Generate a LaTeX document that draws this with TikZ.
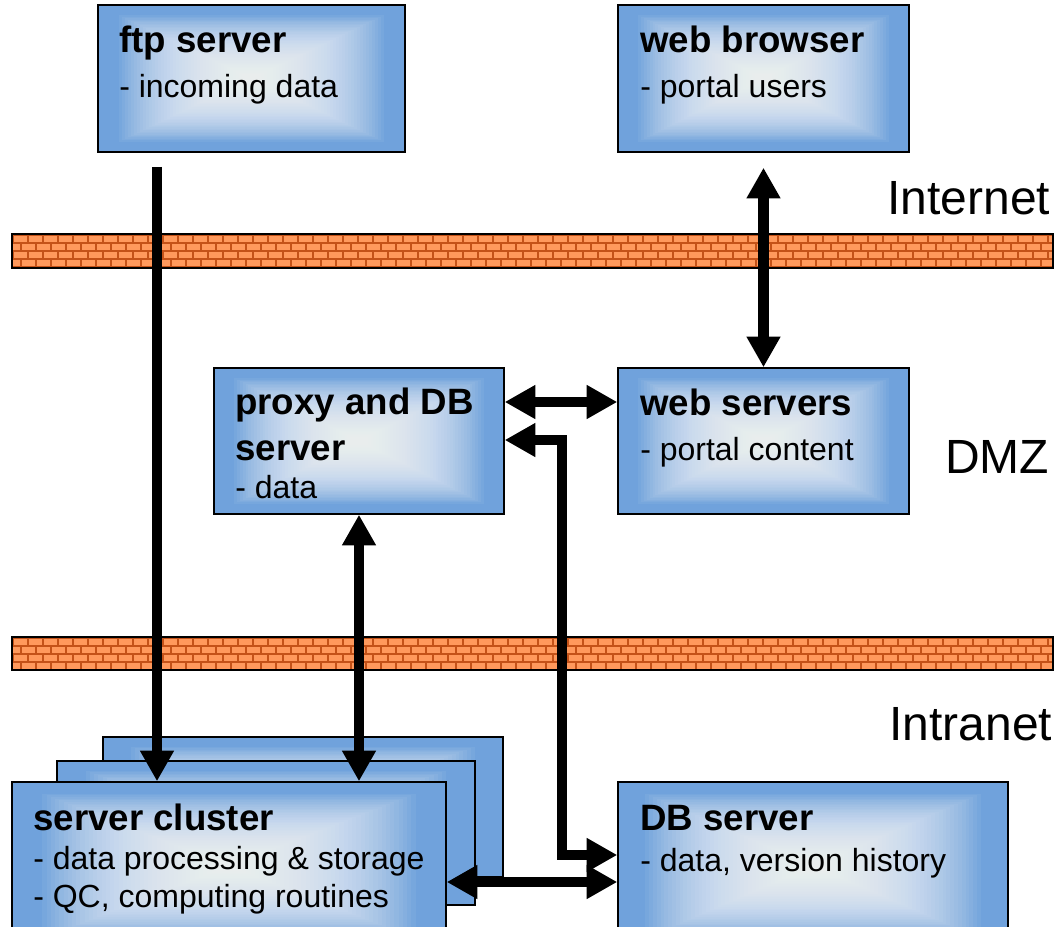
\documentclass[tikz,border=0pt]{standalone}
\usepackage{fontspec}
\setmainfont{Liberation Sans}
\usetikzlibrary{arrows.meta,calc}
\definecolor{boxblue}{RGB}{112,162,220}
\definecolor{brickface}{RGB}{255,153,92}
\definecolor{mortar}{RGB}{196,82,24}
\tikzset{
  srvbox/.style={draw=black, line width=1.1pt, fill=boxblue, inner sep=0pt,
    path picture={
      \foreach \i in {0,...,41}{
        \pgfmathsetmacro{\f}{0.86-\i*0.0195}
        \fill[white, fill opacity=0.055]
          ($(path picture bounding box.center)!\f!(path picture bounding box.south west)$)
          rectangle
          ($(path picture bounding box.center)!\f!(path picture bounding box.north east)$);
      }
    }},
  ttl/.style={anchor=base west, inner sep=0pt, font=\fontsize{27.5}{30}\selectfont\bfseries},
  sub/.style={anchor=base west, inner sep=0pt, font=\fontsize{24}{28}\selectfont},
  zone/.style={anchor=base west, inner sep=0pt, font=\fontsize{36}{40}\selectfont},
  conn/.style={line width=8pt, -{Triangle[width=24pt,length=23pt]}},
  bconn/.style={line width=8pt, {Triangle[width=24pt,length=23pt]}-{Triangle[width=24pt,length=23pt]}},
}
\newcommand{\brickwall}[2]{% top y, bottom y (pixels, downward)
  \begin{scope}
    \clip (12,-#1) rectangle (1053,-#2);
    \fill[mortar] (12,-#1) rectangle (1053,-#2);
    \foreach \r in {0,1,2,3}{
      \pgfmathsetmacro{\off}{mod(\r,2)*7.5}
      \foreach \k in {-1,0,...,70}{
        \fill[brickface] ({14+\off+15*\k},{-(#1+2+8*\r)}) rectangle ({14+\off+15*\k+13},{-(#1+2+8*\r+6)});
      }
    }
  \end{scope}
  \draw[line width=1.5pt] (12,-#1) rectangle (1053,-#2);
}
\begin{document}
\begin{tikzpicture}[x=0.75pt,y=0.75pt]
\useasboundingbox (0,0) rectangle (1056,-927);
\clip (0,0) rectangle (1056,-927);

% walls
\brickwall{234}{268}
\brickwall{637}{670}

% zone labels
\node[zone] (internet) at (887,-215) {Internet};
\node[zone] (dmz) at (945,-473) {DMZ};
\node[zone] (intranet) at (889,-740) {Intranet};

% boxes
\node[srvbox, minimum width=307*0.75pt, minimum height=147*0.75pt] (ftp) at (251.5,-78.5) {};
\node[srvbox, minimum width=291*0.75pt, minimum height=147*0.75pt] (browser) at (763.5,-78.5) {};
\node[srvbox, minimum width=290*0.75pt, minimum height=146*0.75pt] (proxy) at (359,-441) {};
\node[srvbox, minimum width=291*0.75pt, minimum height=146*0.75pt] (websrv) at (763.5,-441) {};
\node[srvbox, minimum width=400*0.75pt, minimum height=140*0.75pt] (clusterc) at (303,-807) {};
\node[srvbox, minimum width=418*0.75pt, minimum height=144*0.75pt] (clusterb) at (266,-833) {};
\node[srvbox, minimum width=434*0.75pt, minimum height=168*0.75pt] (cluster) at (229,-866) {};
\node[srvbox, minimum width=390*0.75pt, minimum height=168*0.75pt] (db) at (813,-866) {};

% texts
\node[ttl] (ftpt) at (119,-53) {ftp server};
\node[sub] (ftps) at (119,-98) {- incoming data};
\node[ttl] (brt) at (640,-53) {web browser};
\node[sub] (brs) at (640,-98) {- portal users};
\node[ttl] (prt1) at (235,-414) {proxy and DB};
\node[ttl] (prt2) at (235,-460) {server};
\node[sub] (prs) at (235,-498) {- data};
\node[ttl] (wst) at (640,-415) {web servers};
\node[sub] (wss) at (640,-460) {- portal content};
\node[ttl] (clt) at (33,-830) {server cluster};
\node[sub] (cls1) at (33,-869) {- data processing \& storage};
\node[sub] (cls2) at (33,-907) {- QC, computing routines};
\node[ttl] (dbt) at (640,-830) {DB server};
\node[sub] (dbs) at (640,-871) {- data, version history};

% connectors
\coordinate (ftpstart) at (157,-167);
\draw[conn] (ftpstart) -- (ftpstart |- cluster.north);
\draw[bconn] ($(browser.south)+(0,-15)$) -- (websrv.north);
\coordinate (h1) at (0,-402);
\draw[bconn] (proxy.east |- h1) -- (websrv.west |- h1);
\coordinate (e1) at (562,-440);
\coordinate (e2) at (562,-855);
\draw[bconn] (proxy.east |- e1) -- (e1) -- (e2) -- (db.west |- e2);
\draw[bconn] (proxy.south) -- (proxy.south |- cluster.north);
\coordinate (h2) at (0,-882);
\draw[bconn] (cluster.east |- h2) -- (db.west |- h2);
\end{tikzpicture}
\end{document}
